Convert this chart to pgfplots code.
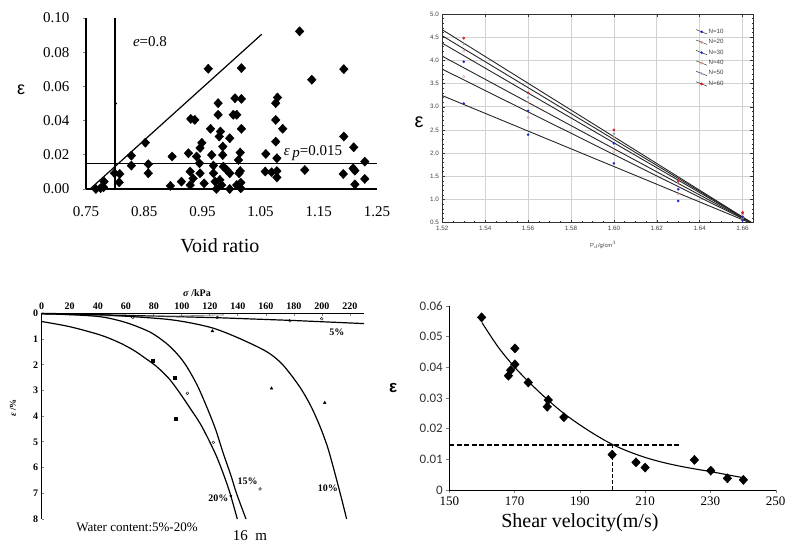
\documentclass[border=0pt]{standalone}
\usepackage{fontspec}
\setmainfont{Liberation Serif}
\newfontfamily\arial{Liberation Sans}
\newfontfamily\carlito{Carlito}
\usepackage{pgfplots}
\pgfplotsset{compat=1.18}
\pgfplotsset{/pgf/number format/assume math mode=true}
\definecolor{nblue}{RGB}{30,40,200}
\definecolor{npink}{RGB}{225,150,140}
\definecolor{nlight}{RGB}{150,160,200}
\definecolor{nred}{RGB}{220,30,30}
\begin{document}
\begin{tikzpicture}[x=1pt,y=1pt]
\useasboundingbox (0,0) rectangle (785,551);

% ---------- panel 1: void ratio ----------
\begin{axis}[at={(86pt,362pt)},anchor=south west,scale only axis,
  width=291pt,height=171pt,
  xmin=0.75,xmax=1.25,ymin=0,ymax=0.1,
  axis x line*=bottom,axis y line*=left,
  axis line style={line width=1.2pt},
  xtick={0.75,0.85,0.95,1.05,1.15,1.25},
  ytick={0,0.02,0.04,0.06,0.08,0.1},
  xtick style={draw=none},
  ytick style={line width=0.8pt},
  tick align=outside,major tick length=3pt,
  xticklabel={\pgfmathprintnumber[fixed,fixed zerofill,precision=2]{\tick}},
  yticklabel={\pgfmathprintnumber[fixed,fixed zerofill,precision=2]{\tick}},
  ticklabel style={font=\fontsize{15}{15}\selectfont},
  xticklabel style={yshift=-11pt},
  yticklabel style={xshift=-10pt},
  xlabel={Void ratio},
  xlabel style={font=\fontsize{20}{20}\selectfont,at={(axis description cs:0.46,-0.33)},anchor=center},
  ylabel={\arial ε},
  every axis y label/.style={at={(axis description cs:-0.223,0.58)},anchor=center,font=\fontsize{18}{18}\selectfont},
  clip=false]
\addplot[black,line width=1.2pt] coordinates {(0.80,0) (0.80,0.1)};
\addplot[black,line width=1.2pt] coordinates {(0.75,0.015) (1.25,0.015)};
\addplot[black,line width=1.2pt] coordinates {(0.757,0) (1.052,0.0905)};
\addplot[only marks,mark=*,mark size=0.6pt,black] coordinates {(0.802,0.05)};
\addplot[only marks,mark=diamond*,mark size=4.6pt,black,
  every mark/.append style={xscale=1.25}] coordinates {
(0.767,0) (0.775,0.0005) (0.781,0.0043) (0.780,0.0010) (0.799,0.0092) (0.808,0.0088)
(0.807,0.0039) (0.828,0.0195) (0.828,0.0137) (0.852,0.0271) (0.857,0.0145) (0.857,0.0092)
(0.895,0.0018) (0.898,0.019) (0.914,0.0043) (0.926,0.0209) (0.929,0.0102) (0.930,0.041)
(0.937,0.0404) (0.929,0.0023) (0.934,0.0062) (0.940,0.019) (0.945,0.015) (0.946,0.0092)
(0.949,0.027) (0.946,0.024) (0.953,0.0033) (0.960,0.0703) (0.964,0.0352) (0.966,0.0199)
(0.969,0.0137) (0.969,0.0092) (0.972,0.0043) (0.974,0) (0.977,0.0502) (0.977,0.0434)
(0.979,0.0307) (0.981,0.0336) (0.985,0.0248) (0.985,0.0199) (0.980,0.0053) (0.983,0.0023)
(0.986,0.0131) (0.992,0.0111) (0.997,0.0297) (0.997,0.0092) (0.997,0) (1.003,0.0434)
(1.006,0.0531) (1.009,0.0434) (1.009,0.0023) (1.012,0.017) (1.013,0.0092) (1.016,0.0004)
(1.017,0.0707) (1.017,0.0527) (1.017,0.0352) (1.015,0.0213) (1.015,0.0105) (1.016,0.0037)
(1.059,0.0205) (1.058,0.0102) (1.069,0.0098) (1.076,0.0502) (1.079,0.0535) (1.076,0.0404)
(1.076,0.0277) (1.078,0.018) (1.078,0.0105) (1.078,0.0068) (1.088,0.0352) (1.117,0.0922)
(1.138,0.0639) (1.126,0.0111) (1.193,0.0701) (1.193,0.0307) (1.192,0.0088) (1.210,0.0244)
(1.209,0.0121) (1.212,0.0107) (1.212,0.0027) (1.229,0.016) (1.229,0.0059)};
\node[font=\fontsize{15}{15}\selectfont] at (axis cs:0.86,0.086) {\textit{e}=0.8};
\node[font=\fontsize{15}{15}\selectfont] at (axis cs:1.14,0.021) {\textit{ε}\,\raisebox{-1.5pt}{\textit{p}}=0.015};
\end{axis}

% ---------- panel 2: dry density ----------
\begin{axis}[at={(442.3pt,328.3pt)},anchor=south west,scale only axis,
  width=311pt,height=208.7pt,
  xmin=1.52,xmax=1.665,ymin=0.5,ymax=5,
  xtick={1.52,1.54,1.56,1.58,1.60,1.62,1.64,1.66},
  ytick={0.5,1,1.5,2,2.5,3,3.5,4,4.5,5},
  minor x tick num=3,minor y tick num=4,
  major tick length=3pt,minor tick length=1.5pt,
  grid=major,grid style={gray!35,line width=0.6pt},
  axis line style={black!80,line width=0.6pt},
  tick style={black!80,line width=0.4pt},
  xticklabel={\pgfmathprintnumber[fixed,fixed zerofill,precision=2]{\tick}},
  yticklabel={\pgfmathprintnumber[fixed,fixed zerofill,precision=1]{\tick}},
  ticklabel style={font=\arial\fontsize{6.3}{6.3}\selectfont,text=black!75},
  xlabel={P$_d$/g/cm$^3$},
  xlabel style={font=\arial\fontsize{5.8}{6}\selectfont,text=black!75,at={(axis description cs:0.517,-0.107)},anchor=center},
  ylabel={\arial ε},
  every axis y label/.style={at={(axis description cs:-0.075,0.4825)},anchor=center,font=\fontsize{20}{20}\selectfont},
  legend style={at={(axis description cs:0.805,0.945)},anchor=north west,draw=none,fill=none,
    font=\arial\fontsize{6.2}{6.2}\selectfont,text=black!75,row sep=2.2pt,
    nodes={inner sep=1.2pt}},
  legend cell align=left,
  legend image code/.code={
    \draw[black!80,line width=0.5pt] (0pt,2.2pt) -- (11pt,-2.2pt);
    \draw[#1] plot coordinates {(5.5pt,0pt)};
  }]
\addplot[forget plot,black!85,line width=0.9pt] coordinates {(1.52,3.24) (1.666,0.45)};
\addplot[forget plot,black!85,line width=0.9pt] coordinates {(1.52,3.81) (1.666,0.45)};
\addplot[forget plot,black!85,line width=0.9pt] coordinates {(1.52,4.09) (1.666,0.45)};
\addplot[forget plot,black!85,line width=0.9pt] coordinates {(1.52,4.37) (1.666,0.45)};
\addplot[forget plot,black!85,line width=0.9pt] coordinates {(1.52,4.53) (1.666,0.45)};
\addplot[forget plot,black!85,line width=0.9pt] coordinates {(1.52,4.66) (1.666,0.45)};
\addplot[only marks,mark=*,mark size=1.1pt,nblue] coordinates {(1.53,3.07) (1.56,2.40) (1.60,1.78) (1.63,0.97) (1.66,0.55)};
\addlegendentry{N=10}
\addplot[only marks,mark=o,mark size=1.2pt,npink] coordinates {(1.53,3.65) (1.56,2.77) (1.60,2.03) (1.63,1.12) (1.66,0.60)};
\addlegendentry{N=20}
\addplot[only marks,mark=*,mark size=1.1pt,nblue] coordinates {(1.53,3.97) (1.56,2.91) (1.60,2.21) (1.63,1.22) (1.66,0.63)};
\addlegendentry{N=30}
\addplot[only marks,mark=o,mark size=1.2pt,npink] coordinates {(1.53,4.20) (1.56,3.10) (1.60,2.35) (1.63,1.35) (1.66,0.68)};
\addlegendentry{N=40}
\addplot[only marks,mark=*,mark size=1.0pt,nlight] coordinates {(1.53,4.35) (1.56,3.20) (1.60,2.42) (1.63,1.38) (1.66,0.70)};
\addlegendentry{N=50}
\addplot[only marks,mark=*,mark size=1.2pt,nred] coordinates {(1.53,4.48) (1.56,3.30) (1.60,2.50) (1.63,1.40) (1.66,0.72)};
\addlegendentry{N=60}
\end{axis}

% ---------- panel 3: stress-strain ----------
\begin{axis}[at={(41.7pt,32pt)},anchor=south west,scale only axis,
  width=322.3pt,height=205.7pt,
  xmin=0,xmax=230,ymin=0,ymax=8,y dir=reverse,
  axis x line*=top,axis y line*=left,
  axis line style={line width=1.2pt},
  xtick={0,20,...,220},ytick={0,1,...,8},
  major tick length=2.5pt,tick style={line width=0.8pt},
  ticklabel style={font=\bfseries\fontsize{10}{10}\selectfont},
  clip=false]
\addplot[black,line width=1.2pt] coordinates {(0,0.02) (60,0.08) (125,0.17) (180,0.28) (230,0.40)};
\addplot[black!45,line width=0.8pt] coordinates {(0,0.03) (60,0.12) (100,0.10) (130,0.06)};
\addplot[black,line width=1.2pt,smooth] coordinates {(0,0.0) (40,0.05) (65,0.13) (89,0.23) (105,0.36) (122.5,0.58) (140,0.95) (160.5,1.49) (172,2.0) (184,2.85) (192,3.6) (198.6,4.4) (204,5.2) (208,5.97) (213,7.0) (217.6,8)};
\addplot[black,line width=1.2pt,smooth] coordinates {(0,0.02) (20,0.05) (41.6,0.13) (55,0.28) (65,0.45) (78,0.75) (89,1.17) (97,1.6) (103.5,2.07) (111,2.8) (117.7,3.63) (124,4.5) (129.6,5.45) (135,6.3) (139,7.0) (145.8,8)};
\addplot[black,line width=1.2pt,smooth] coordinates {(0,0.32) (20,0.52) (41.6,0.84) (55,1.13) (65.4,1.43) (74,1.75) (82,2.07) (91,2.55) (98.7,3.11) (106,3.7) (113,4.28) (119,4.9) (124.9,5.58) (130,6.3) (134.4,7.0) (139.6,8)};
\addplot[only marks,mark=square*,mark size=1.5pt,black] coordinates {(79.2,1.85) (95.1,2.49) (95.8,4.09)};
\addplot[only marks,mark=*,mark size=1.2pt,black] coordinates {(135,7.1)};
\addplot[only marks,mark=o,mark size=1.4pt,black] coordinates {(65,0.16) (104,3.11) (122.5,5.02) (155.8,6.83) (125.3,0.16) (177,0.29) (199.8,0.21)};
\addplot[only marks,mark=triangle*,mark size=1.6pt,black] coordinates {(121.8,0.69) (164,2.92) (202,3.48)};
\node[font=\bfseries\fontsize{10}{10}\selectfont] at (axis cs:210.7,0.73) {5\%};
\node[font=\bfseries\fontsize{10}{10}\selectfont] at (axis cs:204.3,6.8) {10\%};
\node[font=\bfseries\fontsize{10}{10}\selectfont] at (axis cs:147,6.52) {15\%};
\node[font=\bfseries\fontsize{10}{10}\selectfont] at (axis cs:126,7.18) {20\%};
\node[font=\fontsize{13}{13}\selectfont] at (axis cs:68,8.32) {Water content:5\%-20\%};
\node[font=\fontsize{15}{15}\selectfont] at (axis cs:148.6,8.63) {16\enspace m};
\end{axis}
\node[font=\bfseries\fontsize{10}{10}\selectfont] at (197,258) {\textit{σ} /kPa};
\node[font=\bfseries\fontsize{9}{9}\selectfont,rotate=90] at (13,143) {\textit{ε} /\%};

% ---------- panel 4: shear velocity ----------
\begin{axis}[at={(449.3pt,61pt)},anchor=south west,scale only axis,
  width=326.4pt,height=184.3pt,
  xmin=150,xmax=250,ymin=0,ymax=0.06,
  axis x line*=bottom,axis y line*=left,
  axis line style={line width=0.6pt},
  xtick={150,170,190,210,230,250},
  ytick={0,0.01,0.02,0.03,0.04,0.05,0.06},
  yticklabels={0,0.01,0.02,0.03,0.04,0.05,0.06},
  scaled y ticks=false,
  tick align=outside,major tick length=3pt,
  xticklabel style={font=\fontsize{13}{13}\selectfont},
  yticklabel style={font=\carlito\fontsize{13}{13}\selectfont,text=black!80},
  xlabel={Shear velocity(m/s)},
  xlabel style={font=\fontsize{20}{20}\selectfont,at={(axis description cs:0.40,-0.179)},anchor=center},
  ylabel={\arial\bfseries ε},
  every axis y label/.style={at={(axis description cs:-0.172,0.553)},anchor=center,font=\fontsize{17}{17}\selectfont},
  clip=false]
\addplot[black,line width=1.1pt,smooth] coordinates {(160,0.0545) (165,0.0465) (170,0.0400) (175,0.0345) (180,0.0295) (185,0.0250) (190,0.0212) (195,0.0178) (200,0.0148) (205,0.0125) (210,0.0106) (215,0.0091) (220,0.0079) (225,0.0069) (230,0.0060) (235,0.0050) (240,0.0040)};
\addplot[black,line width=1.8pt,dash pattern=on 5pt off 2.5pt] coordinates {(150,0.0147) (220.7,0.0147)};
\addplot[black,line width=1.2pt,dash pattern=on 4pt off 2pt] coordinates {(200,0) (200,0.0147)};
\addplot[only marks,mark=diamond*,mark size=4.6pt,black,
  every mark/.append style={xscale=1.25}] coordinates {
(159.9,0.0562) (170.1,0.0461) (170.1,0.0409) (168.1,0.0372) (168.8,0.039) (174.2,0.035)
(180.3,0.0293) (180.0,0.0271) (185.1,0.0237) (199.9,0.0115) (207.2,0.009) (210.0,0.0073)
(225.1,0.0098) (230.1,0.0063) (235.2,0.0038) (240.1,0.0033)};
\end{axis}
\end{tikzpicture}
\end{document}
